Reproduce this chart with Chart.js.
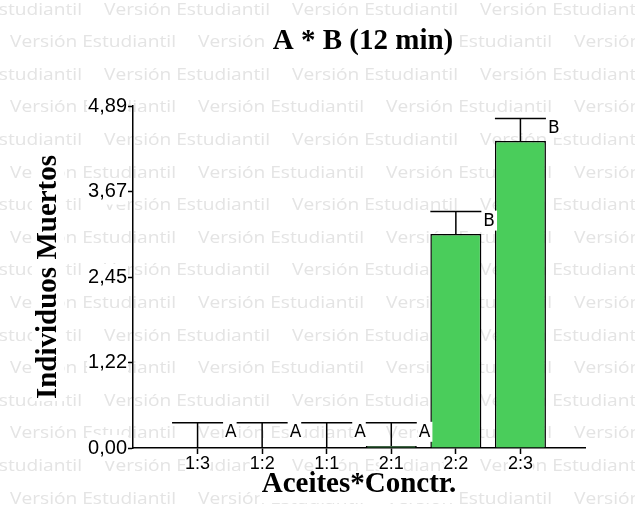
<!DOCTYPE html>
<html>
<head>
<meta charset="utf-8">
<script src="https://cdn.jsdelivr.net/npm/chart.js@4.4.1/dist/chart.umd.min.js"></script>
<style>
  html, body { margin: 0; padding: 0; background: #fff; }
</style>
</head>
<body>
<canvas id="chart" width="635" height="516"></canvas>
<script>
const categories = ['', '1:3', '1:2', '1:1', '2:1', '2:2', '2:3', ''];
const means = [null, 0, 0, 0, 0.03, 3.06, 4.39, null];
const errTop = [null, 0.36, 0.36, 0.36, 0.36, 3.38, 4.71, null];
const letters = [null, 'A', 'A', 'A', 'A', 'B', 'B', null];
const yTicks = [0, 1.2225, 2.445, 3.6675, 4.89];
const yTickLabels = ['0,00', '1,22', '2,45', '3,67', '4,89'];

const serifBold = { family: 'Liberation Serif', size: 29, weight: 'bold' };

// fondo con la marca de agua "Versión Estudiantil"
const watermark = {
  id: 'watermark',
  beforeDraw(chart) {
    const { ctx, width, height, chartArea } = chart;
    ctx.save();
    ctx.fillStyle = '#fff';
    ctx.fillRect(0, 0, width, height);
    ctx.font = '16px "Open Sans"';
    ctx.fillStyle = '#e4e4e4';
    ctx.textBaseline = 'middle';
    const txt = 'Versión Estudiantil';
    const sx = 166 / ctx.measureText(txt).width;
    const period = 188, dy = 32.6;
    for (let k = 0; k < 17; k++) {
      const y = 10 + k * dy;
      const off = (k % 2 === 1) ? 10 : 10 - 94;
      for (let x = off - period; x < width; x += period) {
        ctx.save();
        ctx.translate(x, y);
        ctx.scale(sx, 1);
        ctx.fillText(txt, 0, 0);
        ctx.restore();
      }
    }
    // cajas blancas detrás de los títulos
    ctx.font = 'bold 29px "Liberation Serif"';
    const cx = (chartArea.left + chartArea.right) / 2;
    const tw = ctx.measureText('A * B (12 min)').width;
    ctx.fillStyle = '#fff';
    ctx.fillRect(cx + 4 - tw / 2 - 2, 25, tw + 4, 32);
    const xw = ctx.measureText('Aceites*Conctr.').width;
    ctx.fillRect(cx - xw / 2 - 2, 471, xw + 4, 32);
    const yw = ctx.measureText('Individuos Muertos').width;
    const cy = (chartArea.top + chartArea.bottom) / 2;
    ctx.fillRect(32, cy - yw / 2 - 2, 32, yw + 4);
    ctx.fillStyle = '#000';
    ctx.textAlign = 'center';
    ctx.textBaseline = 'alphabetic';
    ctx.fillText('A * B (12 min)', cx + 4, 49);
    ctx.restore();
  },
  afterDatasetsDraw(chart) {
    const { ctx } = chart;
    const y = chart.scales.y;
    const meta = chart.getDatasetMeta(0);
    ctx.save();
    ctx.strokeStyle = '#000';
    ctx.lineWidth = 1.5;
    meta.data.forEach((bar, i) => {
      if (errTop[i] == null) return;
      const half = bar.width / 2;
      const yb = y.getPixelForValue(means[i]);
      const yt = y.getPixelForValue(errTop[i]);
      ctx.beginPath();
      ctx.moveTo(bar.x, yb);
      ctx.lineTo(bar.x, yt);
      ctx.moveTo(bar.x - half, yt);
      ctx.lineTo(bar.x + half, yt);
      ctx.stroke();
      // letra de agrupación
      ctx.font = '17px "DejaVu Sans"';
      const w = ctx.measureText(letters[i]).width;
      const lx = bar.x + half + 1;
      const ly = yt + 9;
      ctx.fillStyle = '#fff';
      ctx.fillRect(lx, ly - 10, w + 3, 20);
      ctx.fillStyle = '#000';
      ctx.textBaseline = 'middle';
      ctx.fillText(letters[i], lx + 1, ly + 1);
    });
    ctx.restore();
  }
};

new Chart(document.getElementById('chart'), {
  type: 'bar',
  data: {
    labels: categories,
    datasets: [{
      data: means,
      backgroundColor: '#4acd5b',
      borderColor: '#000',
      borderWidth: 1.5,
      barPercentage: 0.79,
      categoryPercentage: 1
    }]
  },
  options: {
    responsive: false,
    animation: false,
    devicePixelRatio: 1,
    layout: { padding: { top: 106, right: 50, left: 0, bottom: 0 } },
    plugins: { legend: { display: false }, tooltip: { enabled: false }, title: { display: false } },
    scales: {
      x: {
        offset: false,
        grid: {
          offset: false,
          drawOnChartArea: false,
          tickLength: 6,
          tickWidth: 1.5,
          tickColor: c => (c.index === 0 || c.index === categories.length - 1) ? 'rgba(0,0,0,0)' : '#000'
        },
        border: { color: '#000', width: 1.5 },
        ticks: {
          color: '#000', font: { family: 'Liberation Sans', size: 18, lineHeight: 1 }, padding: 1,
          autoSkip: false, maxRotation: 0,
          showLabelBackdrop: true, backdropColor: '#fff', backdropPadding: 0
        },
        afterFit: s => { s.height = 68; },
        title: { display: true, text: 'Aceites*Conctr.', color: '#000', font: serifBold, padding: { top: 0, bottom: 14 } }
      },
      y: {
        min: 0,
        max: 4.89,
        afterBuildTicks: s => { s.ticks = yTicks.map(v => ({ value: v })); },
        afterFit: s => { s.width = 133; },
        grid: { drawOnChartArea: false, tickLength: 5, tickWidth: 1.5, tickColor: '#000' },
        border: { color: '#000', width: 1.5 },
        ticks: {
          color: '#000', font: { family: 'Liberation Sans', size: 20 }, padding: 1,
          callback: (v, i) => yTickLabels[i],
          showLabelBackdrop: true, backdropColor: '#fff', backdropPadding: 1
        },
        title: { display: true, text: 'Individuos Muertos', color: '#000', font: serifBold, padding: { top: 31, bottom: 0 } }
      }
    }
  },
  plugins: [watermark]
});
</script>
</body>
</html>
